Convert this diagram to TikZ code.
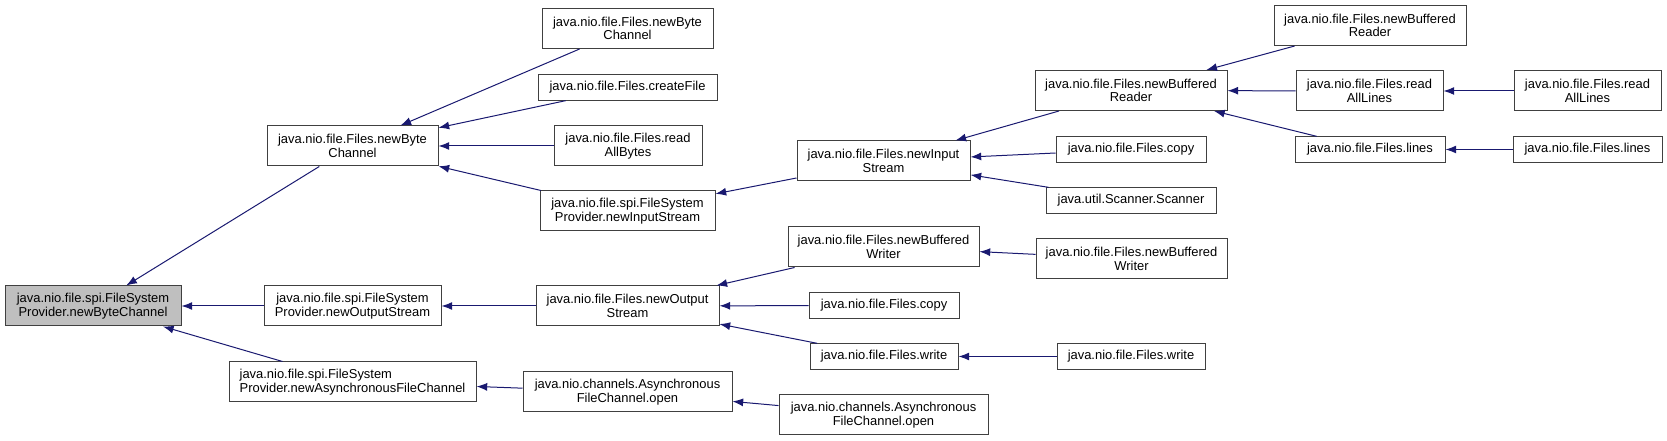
\documentclass[tikz,border=0pt]{standalone}
\usepackage{fontspec}
\setmainfont{Liberation Sans}
\usepackage{xcolor}
\usepackage{tikz}
\usetikzlibrary{arrows.meta}
\definecolor{edgeblue}{HTML}{191970}
\definecolor{boxline}{HTML}{404040}
\definecolor{rootfill}{HTML}{BFBFBF}
\tikzset{
  fn/.style={draw=boxline, line width=0.75pt, fill=white, align=center, inner sep=0pt,
    font=\fontsize{9.7}{10.3}\selectfont, minimum width=#1*0.75pt, minimum height=30pt},
  fnone/.style={fn=#1, minimum height=19pt},
  call/.style={edgeblue, line width=0.75pt, -{Latex[length=8pt,width=6pt]}}
}
\begin{document}
\begin{tikzpicture}[x=0.75pt,y=-0.75pt]
\useasboundingbox (0,0) rectangle (1667,441);
\node[fn=176, fill=rootfill] (root) at (93,306) {java.nio.file.spi.FileSystem\\Provider.newByteChannel};
\node[fn=171] (bytech) at (352.5,146) {java.nio.file.Files.newByte\\Channel};
\node[fn=177] (spiout) at (352.5,306) {java.nio.file.spi.FileSystem\\Provider.newOutputStream};
\node[fn=247, align=left] (spiasync) at (352.5,382) {java.nio.file.spi.FileSystem\\Provider.newAsynchronousFileChannel};
\node[fn=171] (bytech2) at (627.5,28.5) {java.nio.file.Files.newByte\\Channel};
\node[fnone=179] (create) at (627.5,87.5) {java.nio.file.Files.createFile};
\node[fn=148] (allbytes) at (628,146) {java.nio.file.Files.read\\AllBytes};
\node[fn=175] (spiin) at (627.5,211) {java.nio.file.spi.FileSystem\\Provider.newInputStream};
\node[fn=183] (outstr) at (627.5,306) {java.nio.file.Files.newOutput\\Stream};
\node[fn=209] (aopen) at (627.5,392) {java.nio.channels.Asynchronous\\FileChannel.open};
\node[fn=173] (instr) at (883.5,161) {java.nio.file.Files.newInput\\Stream};
\node[fn=191] (bwriter) at (883.5,247) {java.nio.file.Files.newBuffered\\Writer};
\node[fnone=150] (copyout) at (884,305.5) {java.nio.file.Files.copy};
\node[fnone=148] (write) at (884,356.5) {java.nio.file.Files.write};
\node[fn=209] (aopen2) at (883.5,415) {java.nio.channels.Asynchronous\\FileChannel.open};
\node[fn=192] (breader) at (1131,90.5) {java.nio.file.Files.newBuffered\\Reader};
\node[fnone=150] (copyin) at (1131,149.5) {java.nio.file.Files.copy};
\node[fnone=170] (scanner) at (1131,200.5) {java.util.Scanner.Scanner};
\node[fn=191] (bwriter2) at (1131.5,259) {java.nio.file.Files.newBuffered\\Writer};
\node[fnone=148] (write2) at (1131,356.5) {java.nio.file.Files.write};
\node[fn=192] (breader2) at (1370,25.5) {java.nio.file.Files.newBuffered\\Reader};
\node[fn=147] (alllines) at (1369.5,91) {java.nio.file.Files.read\\AllLines};
\node[fnone=150] (lines) at (1370,149.5) {java.nio.file.Files.lines};
\node[fn=147] (alllines2) at (1587.5,91) {java.nio.file.Files.read\\AllLines};
\node[fnone=149] (lines2) at (1587.5,149.5) {java.nio.file.Files.lines};
\draw[call] (bytech) -- (root);
\draw[call] (spiout) -- (root);
\draw[call] (spiasync) -- (root);
\draw[call] (bytech2) -- (bytech);
\draw[call] (create) -- (bytech);
\draw[call] (allbytes) -- (bytech);
\draw[call] (spiin) -- (bytech);
\draw[call] (outstr) -- (spiout);
\draw[call] (aopen) -- (spiasync);
\draw[call] (instr) -- (spiin);
\draw[call] (breader) -- (instr);
\draw[call] (copyin) -- (instr);
\draw[call] (scanner) -- (instr);
\draw[call] (bwriter) -- (outstr);
\draw[call] (copyout) -- (outstr);
\draw[call] (write) -- (outstr);
\draw[call] (aopen2) -- (aopen);
\draw[call] (breader2) -- (breader);
\draw[call] (alllines) -- (breader);
\draw[call] (lines) -- (breader);
\draw[call] (bwriter2) -- (bwriter);
\draw[call] (write2) -- (write);
\draw[call] (alllines2) -- (alllines);
\draw[call] (lines2) -- (lines);
\end{tikzpicture}
\end{document}
